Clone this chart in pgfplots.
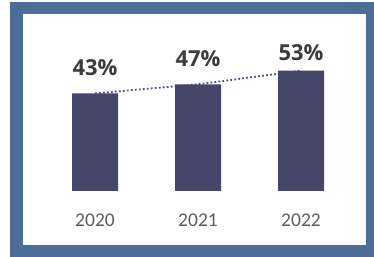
\documentclass[border=0pt]{standalone}
\usepackage{pgfplots}
\pgfplotsset{compat=1.18}
\usepackage{fontspec}
\setmainfont{Carlito}
\newfontfamily\labfont{Open Sans}
\definecolor{frameblue}{HTML}{4D6C96}
\definecolor{barcol}{HTML}{45466A}
\definecolor{dotcol}{HTML}{4A4E8C}
\definecolor{yeargray}{HTML}{5E5E5E}
\definecolor{labgray}{HTML}{3C3C3C}
\begin{document}
\begin{tikzpicture}
\path[use as bounding box] (0bp,0bp) rectangle (374bp,257bp);
\fill[frameblue] (10bp,0bp) rectangle (374bp,255bp);
\fill[white] (23bp,12bp) rectangle (366bp,243bp);
\begin{axis}[at={(43.5bp,66bp)}, anchor=south west, scale only axis,
  width=309bp, height=136.2bp,
  xmin=-0.5, xmax=2.5, ymin=0, ymax=60,
  axis line style={draw=none}, ytick=\empty,
  xtick={0,1,2}, xticklabels={2020,2021,2022}, major tick length=0pt,
  xticklabel style={anchor=base, yshift=-35.5bp, font=\fontsize{19.5bp}{20bp}\selectfont, text=yeargray},
  clip=false]
\addplot[dotcol, dash pattern=on 1.8bp off 2.2bp, line width=1.8bp] coordinates {(0,43) (1,47) (2,53)};
\addplot[ybar, bar width=46bp, fill=barcol, draw=none] coordinates {(0,43) (1,47) (2,53)};
\addplot[draw=none, mark=none, nodes near coords, point meta=explicit symbolic,
  every node near coord/.append style={anchor=base, inner sep=0pt, font=\labfont\bfseries\fontsize{22bp}{24bp}\selectfont, text=labgray}]
  coordinates {(0,50.7) [43\%] (1,54.8) [47\%] (2,57.7) [53\%]};
\end{axis}
\end{tikzpicture}
\end{document}
